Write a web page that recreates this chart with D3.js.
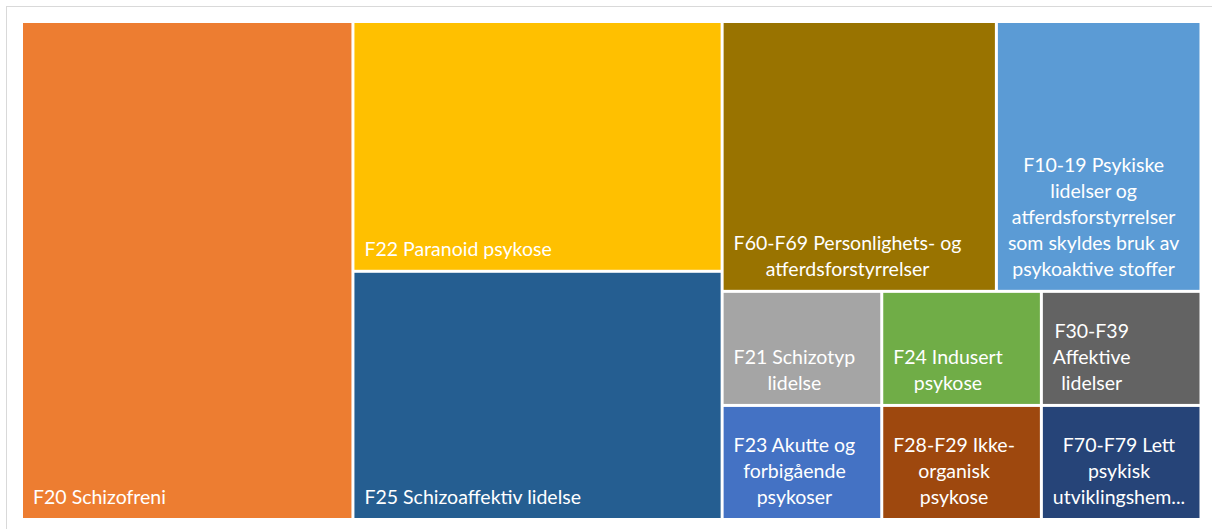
<!DOCTYPE html>
<html>
<head>
<meta charset="utf-8">
<script src="https://cdn.jsdelivr.net/npm/d3@7"></script>
<style>
	body { margin: 0; background: #fff; }
	svg { display: block; }
</style>
</head>
<body>
<div id="chart"></div>
<script>
// categories, values and wrapped label lines
var categories = [
	"F20 Schizofreni",
	"F22 Paranoid psykose",
	"F25 Schizoaffektiv lidelse",
	"F60-F69 Personlighets- og atferdsforstyrrelser",
	"F10-19 Psykiske lidelser og atferdsforstyrrelser som skyldes bruk av psykoaktive stoffer",
	"F21 Schizotyp lidelse",
	"F23 Akutte og forbigående psykoser",
	"F24 Indusert psykose",
	"F28-F29 Ikke-organisk psykose",
	"F30-F39 Affektive lidelser",
	"F70-F79 Lett psykisk utviklingshemming"
];
var values = [281, 157, 156, 126, 94, 31, 31, 31, 31, 31, 31];
var colors = ["#ED7D31", "#FFC000", "#255E91", "#997300", "#5B9BD5", "#A5A5A5",
	"#4472C4", "#70AD47", "#9E480E", "#636363", "#264478"];
var labelLines = [
	["F20 Schizofreni"],
	["F22 Paranoid psykose"],
	["F25 Schizoaffektiv lidelse"],
	["F60-F69 Personlighets- og", "atferdsforstyrrelser"],
	["F10-19 Psykiske", "lidelser og", "atferdsforstyrrelser", "som skyldes bruk av", "psykoaktive stoffer"],
	["F21 Schizotyp", "lidelse"],
	["F23 Akutte og", "forbigående", "psykoser"],
	["F24 Indusert", "psykose"],
	["F28-F29 Ikke-", "organisk", "psykose"],
	["F30-F39", "Affektive", "lidelser"],
	["F70-F79 Lett", "psykisk", "utviklingshem..."]
];

var width = 1212, height = 529;
var fontSize = 19.5, lineH = 26;

var svg = d3.select("#chart").append("svg")
	.attr("width", width)
	.attr("height", height);

// chart frame
svg.append("rect")
	.attr("x", 6.5)
	.attr("y", 6.5)
	.attr("width", 1220)
	.attr("height", 540)
	.attr("fill", "none")
	.attr("stroke", "#d9d9d9");

var data = {
	name: "root",
	children: categories.map(function(c, i) {
		return {name: c, value: values[i], color: colors[i], lines: labelLines[i], idx: i};
	})
};

var root = d3.hierarchy(data)
	.sum(function(d) { return d.children ? 0 : d.value; })
	.sort(function(a, b) { return (b.value - a.value) || (a.data.idx - b.data.idx); });

d3.treemap()
	.tile(d3.treemapSquarify.ratio(1))
	.size([1176.5, 495])
	.paddingInner(3)(root);

var g = svg.append("g").attr("transform", "translate(23,23)");

var cell = g.selectAll("g.cell")
	.data(root.leaves())
	.enter().append("g")
	.attr("class", "cell");

cell.append("rect")
	.attr("x", function(d) { return d.x0; })
	.attr("y", function(d) { return d.y0; })
	.attr("width", function(d) { return d.x1 - d.x0; })
	.attr("height", function(d) { return d.y1 - d.y0; })
	.attr("fill", function(d) { return d.data.color; });

cell.each(function(d) {
	var el = d3.select(this);
	var n = d.data.lines.length;
	var texts = el.selectAll("text")
		.data(d.data.lines)
		.enter().append("text")
		.text(function(t) { return t; })
		.attr("fill", "#fff")
		.style("font-family", "Lato, 'Open Sans', sans-serif")
		.style("font-size", fontSize + "px")
		.attr("y", function(t, i) { return d.y1 - 14 - (n - 1 - i) * lineH; });
	// lines are centred on the widest one, block sits at the left
	var maxW = 0;
	texts.each(function() { maxW = Math.max(maxW, this.getComputedTextLength()); });
	texts.attr("text-anchor", "middle")
		.attr("x", d.x0 + 10 + maxW / 2);
});
</script>
</body>
</html>
